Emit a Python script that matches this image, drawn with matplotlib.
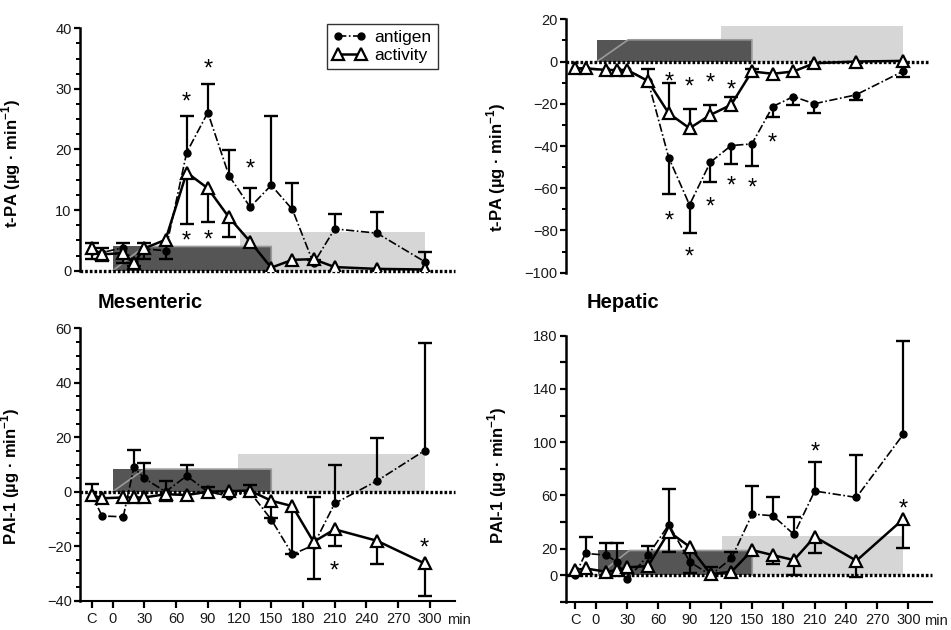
import numpy as np
import matplotlib
matplotlib.use("Agg")
import matplotlib.pyplot as plt
from matplotlib.ticker import MultipleLocator, FixedLocator

plt.rcParams['font.family'] = ['Liberation Sans', 'DejaVu Sans']
plt.rcParams['mathtext.fontset'] = 'custom'
plt.rcParams['mathtext.rm'] = 'Liberation Sans'
plt.rcParams['mathtext.bf'] = 'Liberation Sans:bold'

# ---------------- data ----------------
times = [-20, -10, 10, 20, 30, 50, 70, 90, 110, 130, 150, 170, 190, 210, 250, 295]
xtick_pos = [-20, 0, 30, 60, 90, 120, 150, 180, 210, 240, 270, 300]
xtick_lab = ['C', '0', '30', '60', '90', '120', '150', '180', '210', '240', '270', '300']

# t-PA mesenteric
tpa_mes_antigen = [3.2, 3.0, 3.8, 1.5, 3.6, 3.3, 19.5, 26.1, 15.7, 10.5, 14.1, 10.1, 1.2, 6.9, 6.2, 1.5]
tpa_mes_antigen_up = [1.3, 0.8, 0.7, 0, 0.9, 0, 6.0, 4.7, 4.2, 3.2, 11.4, 4.3, 0.6, 2.4, 3.5, 1.6]
tpa_mes_antigen_dn = [0, 0, 0, 0, 0, 1.4, 0, 0, 0, 0, 0, 0, 0, 0, 0, 0]
tpa_mes_activity = [3.7, 2.7, 2.9, 1.2, 3.7, 5.1, 16.2, 13.6, 8.8, 4.8, 0.5, 1.8, 1.9, 0.6, 0.3, 0.2]
tpa_mes_activity_up = [0] * 16
tpa_mes_activity_dn = [1.7, 1.1, 1.7, 0.5, 1.7, 0, 8.5, 5.5, 3.2, 0, 0, 0, 0, 0, 0, 0]
tpa_mes_stars_x = [70, 90, 130, 70, 90]
tpa_mes_stars_y = [28.8, 34.3, 17.7, 5.9, 6.0]

# t-PA hepatic
tpa_hep_antigen = [-3.5, -3.5, -4, -4, -4, -9, -45.5, -67.9, -47.7, -39.8, -39.0, -21.3, -16.6, -20.0, -15.8, -4.7]
tpa_hep_antigen_up = [0] * 16
tpa_hep_antigen_dn = [0, 0, 0, 0, 0, 0, 17.4, 13.1, 9.5, 8.9, 10.4, 5.1, 3.9, 4.2, 2.4, 2.4]
tpa_hep_activity = [-3.2, -3.2, -4, -4, -4, -9.2, -24.5, -31.6, -25.3, -20.5, -4.7, -5.8, -4.7, -0.8, 0.0, 0.3]
tpa_hep_activity_up = [0, 0, 0, 0, 0, 5.6, 14.2, 9.2, 4.8, 3.9, 1.1, 0, 0, 0, 0, 0]
tpa_hep_activity_dn = [0] * 16
tpa_hep_stars_x = [70, 90, 110, 130, 70, 90, 110, 130, 150, 170]
tpa_hep_stars_y = [-6.8, -9.2, -7.4, -11.0, -72.7, -90.0, -66.4, -56.0, -57.3, -36.0]

# PAI-1 mesenteric
pai_mes_antigen = [-1.0, -8.9, -9.2, 8.9, 4.9, 0.0, 5.8, 0.0, -1.6, -0.2, -10.2, -23.0, -19.6, -4.3, 4.0, 15.1]
pai_mes_antigen_up = [3.7, 0, 0, 6.6, 5.5, 3.9, 4.2, 1.6, 0, 2.6, 0, 0, 17.5, 14.3, 15.8, 39.4]
pai_mes_antigen_dn = [0] * 16
pai_mes_activity = [-1.2, -2.4, -2.1, -2.1, -2.1, -0.9, -1.2, 0.0, 0.2, 0.4, -3.3, -5.3, -18.4, -13.8, -18.0, -26.3]
pai_mes_activity_up = [0] * 16
pai_mes_activity_dn = [0, 0, 0, 0, 0, 2.5, 0, 0, 0, 0, 6.5, 17.7, 13.8, 6.2, 8.6, 12.0]
pai_mes_stars_x = [210, 295]
pai_mes_stars_y = [-26.9, -18.7]

# PAI-1 hepatic
pai_hep_antigen = [0.0, 16.3, 15.0, 10.0, -3.3, 15.0, 38.0, 10.0, 0.0, 12.5, 45.9, 44.6, 30.6, 63.2, 58.4, 105.8]
pai_hep_antigen_up = [0, 12.0, 8.8, 13.8, 0, 6.8, 26.4, 0, 5.8, 5.0, 21.0, 14.3, 12.8, 21.5, 31.8, 70.4]
pai_hep_antigen_dn = [0] * 16
pai_hep_activity = [3.8, 5.0, 2.5, 3.8, 5.8, 6.8, 32.6, 21.3, 0.8, 2.5, 18.8, 15.0, 11.3, 28.8, 10.8, 42.1]
pai_hep_activity_up = [0] * 16
pai_hep_activity_dn = [0, 0, 0, 0, 0, 0, 15.1, 19.5, 0, 0, 0, 6.7, 11.3, 12.5, 12.6, 21.5]
pai_hep_stars_x = [210, 295]
pai_hep_stars_y = [96.5, 53.9]

# infusion periods (start, end, height)
dark_periods = [(0, 150, 4.0), (1, 150, 10.3), (0, 150, 8.3), (2, 150, 18.5)]
light_periods = [(120, 295, 6.4), (120, 295, 16.9), (119, 295, 13.8), (121, 295, 29.3)]

DARK = '#555555'
LIGHT = '#d6d6d6'


def draw_panel(ax, antigen, ag_up, ag_dn, activity, ac_up, ac_dn, sx, sy,
               dark, light, xlim, ylim, bottom_axis):
    t = np.array(times, dtype=float)
    # shaded infusion blocks
    ax.bar(light[0], light[2], width=light[1] - light[0], align='edge',
           color=LIGHT, zorder=0.5, linewidth=0)
    ax.bar(dark[0], dark[2], width=dark[1] - dark[0], align='edge',
           color=DARK, zorder=0.6, linewidth=0)
    ax.plot([dark[0], dark[0] + 30, dark[1], dark[1]], [0, dark[2], dark[2], 0],
            color='#9a9a9a', lw=1.2, zorder=0.7)
    # zero line
    ax.axhline(0, color='black', lw=2.4, linestyle=(0, (0.8, 0.6)), zorder=1, clip_on=False)

    def errs(y, up, dn):
        y = np.array(y, float)
        up = np.array(up, float)
        dn = np.array(dn, float)
        m = up > 0
        ax.vlines(t[m], y[m], y[m] + up[m], color='black', lw=1.6, zorder=2)
        ax.plot(t[m], y[m] + up[m], ls='none', marker='_', ms=10, mew=1.7,
                color='black', zorder=2)
        m = dn > 0
        ax.vlines(t[m], y[m] - dn[m], y[m], color='black', lw=1.6, zorder=2)
        ax.plot(t[m], y[m] - dn[m], ls='none', marker='_', ms=10, mew=1.7,
                color='black', zorder=2)

    errs(antigen, ag_up, ag_dn)
    errs(activity, ac_up, ac_dn)
    ax.plot(t, antigen, color='black', lw=1.2, ls=(0, (5, 1.5, 1, 1.5)),
            marker='o', ms=5, mfc='black', mec='black', zorder=3, label='antigen')
    ax.plot(t, activity, color='black', lw=1.8, ls='-',
            marker='^', ms=8, mfc='white', mec='black', mew=1.6, zorder=4,
            label='activity')
    for x, y in zip(sx, sy):
        ax.annotate('*', xy=(x, y), xytext=(0, -4.5), textcoords='offset points',
                    ha='center', va='center', fontsize=17, color='black')

    ax.set_xlim(*xlim)
    ax.set_ylim(*ylim)
    for s in ['top', 'right']:
        ax.spines[s].set_visible(False)
    ax.spines['left'].set_linewidth(1.8)
    ax.tick_params(axis='y', which='major', length=4, width=1.6, labelsize=10.5,
                   direction='out', pad=2, colors='black', labelcolor='#1a1a1a')
    ax.tick_params(axis='y', which='minor', length=3, width=1.4, direction='out')
    if bottom_axis:
        ax.spines['bottom'].set_linewidth(1.5)
        ax.set_xticks(xtick_pos)
        ax.set_xticklabels(xtick_lab)
        ax.tick_params(axis='x', length=5, width=1.6, labelsize=10.5, pad=3,
                       labelcolor='#1a1a1a')
        ax.text(0.98, -0.045, 'min', transform=ax.transAxes, ha='left', va='top',
                fontsize=10.5, color='#1a1a1a')
    else:
        ax.spines['bottom'].set_visible(False)
        ax.set_xticks([])


fig = plt.figure(figsize=(9.51, 6.30), dpi=100)
W, H = 951.0, 630.0


def add_ax(l, r, t, b):
    return fig.add_axes([l / W, 1 - b / H, (r - l) / W, (b - t) / H])


ax1 = add_ax(80, 455, 28.3, 270.7)
ax2 = add_ax(566, 930, 19.3, 272.7)
ax3 = add_ax(80, 455, 328.3, 600.7)
ax4 = add_ax(566, 931.7, 335.7, 601.7)

draw_panel(ax1, tpa_mes_antigen, tpa_mes_antigen_up, tpa_mes_antigen_dn,
           tpa_mes_activity, tpa_mes_activity_up, tpa_mes_activity_dn,
           tpa_mes_stars_x, tpa_mes_stars_y, dark_periods[0], light_periods[0],
           (-30.9, 323.8), (0, 40), False)
ax1.yaxis.set_major_locator(MultipleLocator(10))
ax1.yaxis.set_minor_locator(MultipleLocator(2.5))

draw_panel(ax2, tpa_hep_antigen, tpa_hep_antigen_up, tpa_hep_antigen_dn,
           tpa_hep_activity, tpa_hep_activity_up, tpa_hep_activity_dn,
           tpa_hep_stars_x, tpa_hep_stars_y, dark_periods[1], light_periods[1],
           (-28.8, 321.3), (-100, 20), False)
ax2.yaxis.set_major_locator(MultipleLocator(20))
ax2.yaxis.set_minor_locator(MultipleLocator(10))

draw_panel(ax3, pai_mes_antigen, pai_mes_antigen_up, pai_mes_antigen_dn,
           pai_mes_activity, pai_mes_activity_up, pai_mes_activity_dn,
           pai_mes_stars_x, pai_mes_stars_y, dark_periods[2], light_periods[2],
           (-30.9, 323.8), (-40, 60), True)
ax3.yaxis.set_major_locator(MultipleLocator(20))
ax3.yaxis.set_minor_locator(MultipleLocator(5))

draw_panel(ax4, pai_hep_antigen, pai_hep_antigen_up, pai_hep_antigen_dn,
           pai_hep_activity, pai_hep_activity_up, pai_hep_activity_dn,
           pai_hep_stars_x, pai_hep_stars_y, dark_periods[3], light_periods[3],
           (-28.8, 322.3), (-20, 180), True)
hep_ticks = list(range(-20, 181, 20))
ax4.yaxis.set_major_locator(FixedLocator(hep_ticks))
ax4.set_yticklabels(['' if v not in (0, 20, 60, 100, 140, 180) else str(v) for v in hep_ticks])

tpa_label = r't-PA (µg · min$^{\mathbf{-1}}$)'
pai_label = r'PAI-1 (µg · min$^{\mathbf{-1}}$)'
for ax, lab, lx, ly in [(ax1, tpa_label, -0.152, 0.444), (ax2, tpa_label, -0.159, 0.417),
                        (ax3, pai_label, -0.155, 0.458), (ax4, pai_label, -0.156, 0.476)]:
    ax.set_ylabel(lab, fontsize=12, fontweight='bold')
    ax.yaxis.set_label_coords(lx, ly)

fig.text(98 / W, 1 - 302 / H, 'Mesenteric', fontsize=14.5, fontweight='bold',
         ha='left', va='center')
fig.text(587 / W, 1 - 302 / H, 'Hepatic', fontsize=14.5, fontweight='bold',
         ha='left', va='center')

leg = ax1.legend(loc='upper left', bbox_to_anchor=(327 / W, 1 - 24 / H),
                 bbox_transform=fig.transFigure, fontsize=12.5, numpoints=2,
                 frameon=True, fancybox=False, handlelength=1.9, handletextpad=0.5,
                 borderpad=0.35, labelspacing=0.15, borderaxespad=0)
leg.get_frame().set_edgecolor('black')
leg.get_frame().set_linewidth(1.0)

fig.savefig('out.png', dpi=100)
